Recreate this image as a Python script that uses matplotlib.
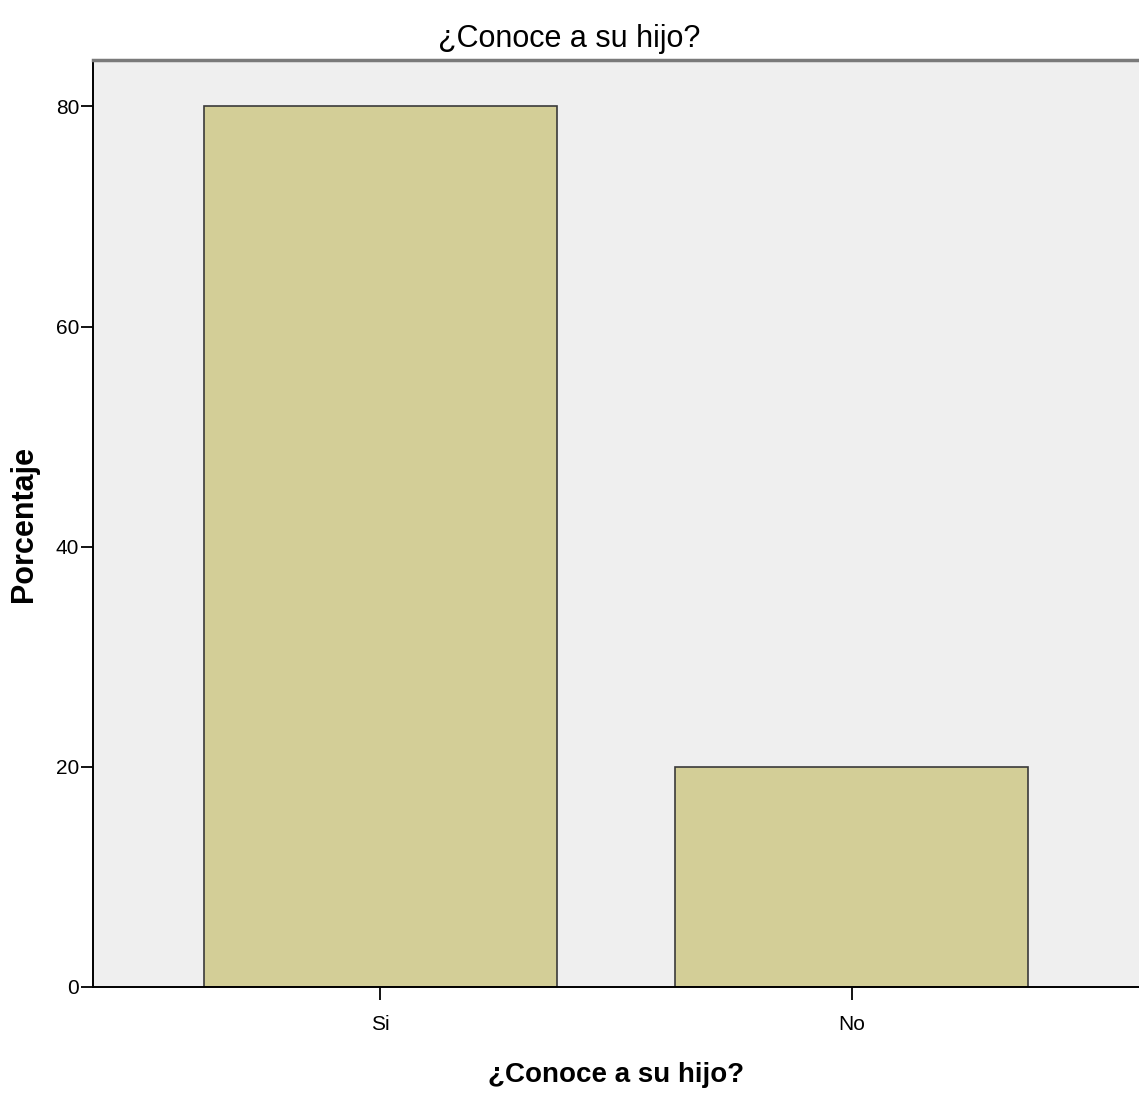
import matplotlib
matplotlib.use("Agg")
import matplotlib.pyplot as plt

categorias = ["Si", "No"]
porcentajes = [80.0, 20.0]
yticks = [0, 20, 40, 60, 80]

titulo = "¿Conoce a su hijo?"
fuente = ["Liberation Sans", "DejaVu Sans"]

fig = plt.figure(figsize=(11.39, 10.93), dpi=100)
ax = fig.add_axes([0.0817, 0.097, 0.9183, 0.848])
ax.set_facecolor("#efefef")

pos = list(range(len(categorias)))
ax.bar(pos, porcentajes, width=0.75, color="#d3ce97", edgecolor="#3a3a3a", linewidth=1.2)

ax.set_xlim(-0.61, 1.61)
ax.set_ylim(0, 84.2)
ax.set_xticks(pos)
ax.set_xticklabels(categorias, family=fuente, fontsize=15)
ax.set_yticks(yticks)
ax.set_yticklabels([str(v) for v in yticks], family=fuente, fontsize=15)
ax.tick_params(axis="both", direction="out", length=9, width=1.3, color="black")
ax.tick_params(axis="x", pad=11)
ax.tick_params(axis="y", pad=1)

for s in ["left", "bottom"]:
    ax.spines[s].set_color("black")
    ax.spines[s].set_linewidth(1.4)
ax.spines["right"].set_visible(False)
ax.spines["top"].set_color("#7a7a7a")
ax.spines["top"].set_linewidth(2.5)

# el titulo va centrado en la figura, no en los ejes
fig.text(0.5, 0.957, titulo, family=fuente, fontsize=22, ha="center", va="baseline")
ax.set_xlabel(titulo, family=fuente, fontsize=20, fontweight="bold", labelpad=20)
ax.set_ylabel("Porcentaje", family=fuente, fontsize=22, fontweight="bold", labelpad=12)

fig.savefig("out.png", dpi=100)
